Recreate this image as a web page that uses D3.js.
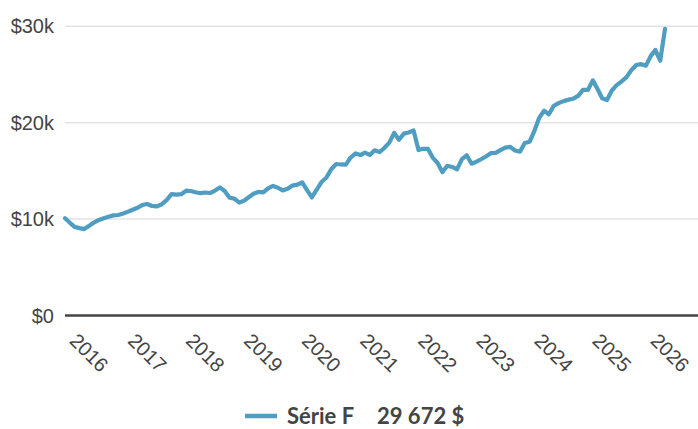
<!DOCTYPE html>
<html lang="fr">
<head>
<meta charset="UTF-8">
<title>Série F</title>
<script src="https://d3js.org/d3.v7.min.js"></script>
<style>
    body { margin: 0; padding: 0; background: #ffffff; }
    svg { display: block; font-family: Lato, 'Noto Sans', sans-serif; }
    .tick text { fill: #444444; }
</style>
</head>
<body>
<svg id="chart" width="698" height="429"></svg>
<script>
    // monthly values, Jan 2016 .. May 2026
    const startMonth = new Date(2016, 0, 1);
    const seriesName = "Série F";
    const values = [
        10030, 9560, 9140, 9010, 8910, 9250, 9590, 9860, 10030, 10180, 10330, 10370,
        10530, 10720, 10910, 11120, 11400, 11510, 11310, 11270, 11490, 11920, 12530, 12490,
        12530, 12890, 12860, 12730, 12630, 12700, 12650, 12900, 13230, 12860, 12160, 12070,
        11660, 11860, 12210, 12570, 12770, 12720, 13120, 13380, 13200, 12920, 13090, 13420,
        13520, 13760, 12970, 12190, 12970, 13790, 14230, 15120, 15660, 15610, 15600, 16330,
        16760, 16590, 16830, 16600, 17080, 16890, 17320, 17870, 18890, 18170, 18810, 18930,
        19140, 17110, 17240, 17230, 16320, 15760, 14820, 15470, 15350, 15100, 16160, 16560,
        15690, 15900, 16150, 16440, 16780, 16810, 17090, 17360, 17440, 17060, 16930, 17830,
        17970, 19150, 20450, 21180, 20810, 21700, 21970, 22180, 22330, 22430, 22720, 23340,
        23340, 24330, 23490, 22470, 22290, 23280, 23840, 24210, 24670, 25380, 25920, 26010,
        25860, 26870, 27480, 26370, 29672
    ];
    const yTicks = [0, 10000, 20000, 30000];
    const yTickLabels = ["$0", "$10k", "$20k", "$30k"];
    const lineColor = "#4f9dc0";

    const data = values.map((v, i) => ({ date: d3.timeMonth.offset(startMonth, i), value: v }));

    const svg = d3.select("#chart");
    const mLeft = 65, mRight = 665, mTop = 25.7, mBottom = 315;

    const x = d3.scaleTime()
        .domain([data[0].date, data[data.length - 1].date])
        .range([mLeft, mRight]);
    const y = d3.scaleLinear().domain([0, 30000]).range([mBottom, mTop]);

    // gridlines + y labels
    const yAxis = d3.axisLeft(y)
        .tickValues(yTicks)
        .tickSize(-(698 - mLeft))
        .tickFormat((d, i) => yTickLabels[i]);
    const gy = svg.append("g").attr("transform", `translate(${mLeft},0)`).call(yAxis);
    gy.select(".domain").remove();
    gy.selectAll(".tick line")
        .attr("stroke", d => d === 0 ? "#444444" : "#e3e3e3")
        .attr("stroke-width", d => d === 0 ? 2.5 : 1.5);
    gy.selectAll(".tick text")
        .attr("x", -11)
        .attr("font-size", 20)
        .attr("dy", "0.35em");

    // x axis (year labels, rotated)
    const xAxis = d3.axisBottom(x)
        .ticks(d3.timeYear.every(1))
        .tickSize(0)
        .tickFormat(d3.timeFormat("%Y"));
    const gx = svg.append("g").attr("transform", `translate(0,${mBottom})`).call(xAxis);
    gx.select(".domain").remove();
    gx.selectAll(".tick text")
        .attr("font-size", 20)
        .attr("text-anchor", "start")
        .attr("dy", 0)
        .attr("y", 0)
        .attr("transform", "translate(3,27) rotate(45)");

    // line
    const line = d3.line().x(d => x(d.date)).y(d => y(d.value));
    svg.append("path")
        .datum(data)
        .attr("fill", "none")
        .attr("stroke", lineColor)
        .attr("stroke-width", 4.2)
        .attr("stroke-linejoin", "round")
        .attr("stroke-linecap", "round")
        .attr("d", line);

    // legend
    const lastValue = values[values.length - 1];
    const fmt = d3.formatLocale({ decimal: ",", thousands: "\u00a0", grouping: [3], currency: ["", " $"] }).format("$,.0f");
    const legend = svg.append("g").attr("transform", "translate(245,416)");
    legend.append("line")
        .attr("x1", 0).attr("x2", 32)
        .attr("stroke", lineColor).attr("stroke-width", 4.5);
    legend.append("text")
        .attr("x", 42).attr("y", 8)
        .attr("font-size", 22).attr("font-weight", "bold").attr("fill", "#444444")
        .text(seriesName);
    legend.append("text")
        .attr("x", 132).attr("y", 8)
        .attr("font-size", 22).attr("font-weight", "bold").attr("fill", "#444444")
        .text(fmt(lastValue));
</script>
</body>
</html>
